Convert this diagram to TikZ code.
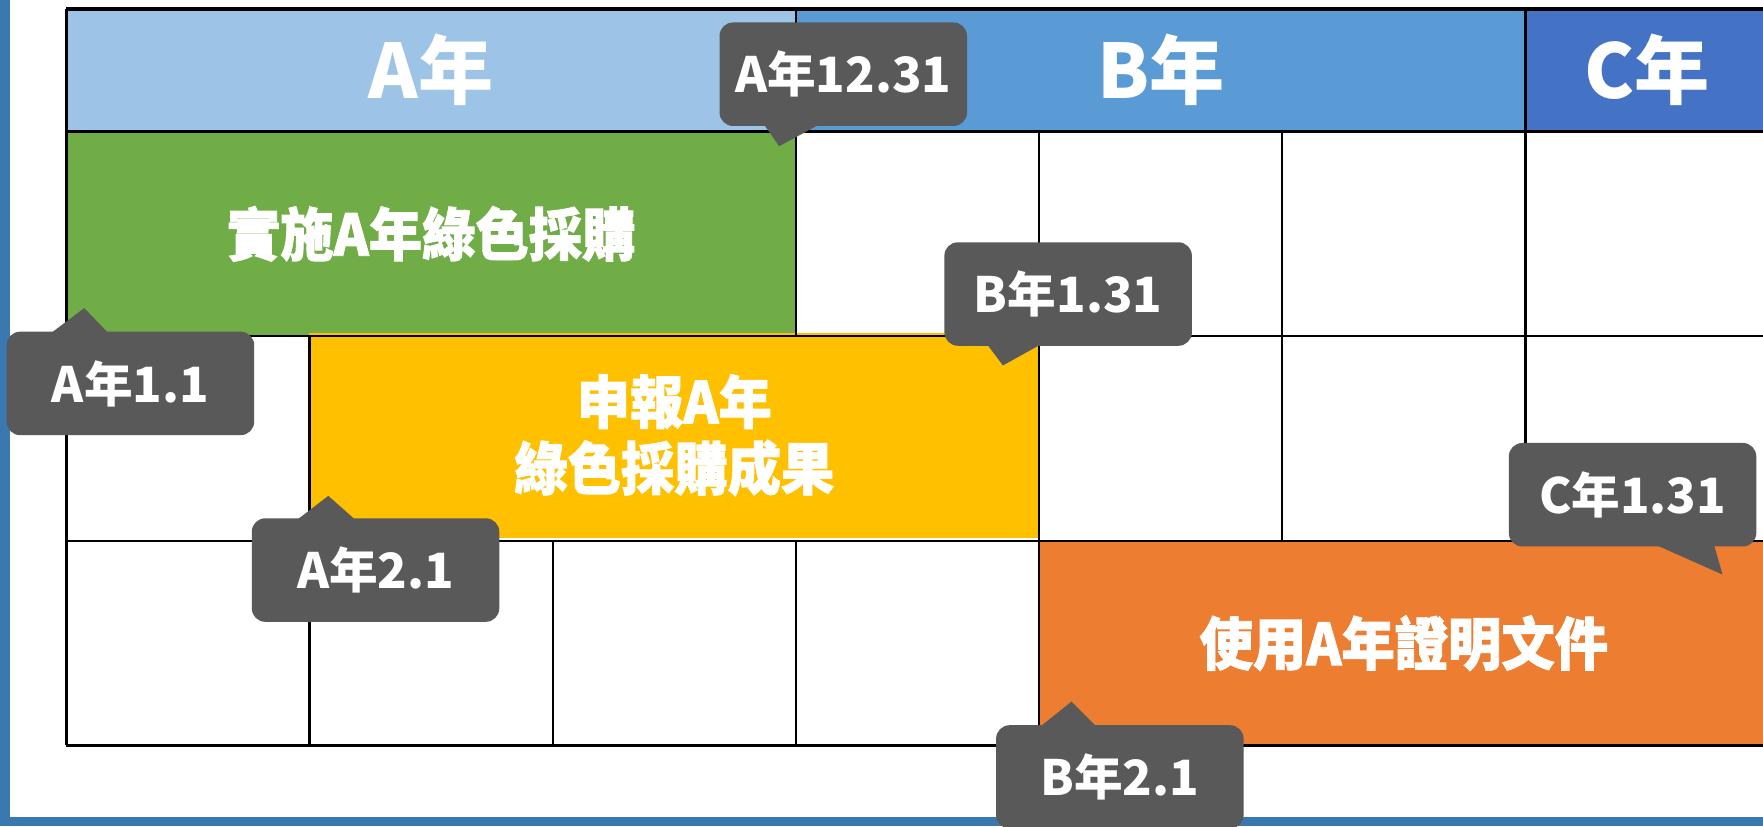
\documentclass[tikz,border=0pt]{standalone}
\usepackage{fontspec}
\setmainfont{Noto Sans CJK TC}
\newfontfamily\heavyfont[BoldFeatures={FakeBold=1.6,FakeStretch=0.93}]{Noto Sans CJK TC}
\definecolor{hdrA}{HTML}{9DC3E6}
\definecolor{hdrB}{HTML}{5B9BD5}
\definecolor{hdrC}{HTML}{4472C4}
\definecolor{boxG}{HTML}{70AD47}
\definecolor{boxY}{HTML}{FFC000}
\definecolor{boxO}{HTML}{ED7D31}
\definecolor{tipgray}{HTML}{595959}
\definecolor{strip}{HTML}{3A78B0}
\tikzset{
  hdr/.style={inner sep=0pt, minimum height=1.09cm, text=white, font=\bfseries\fontsize{19}{19}\selectfont},
  task/.style={inner sep=0pt, minimum height=1.82cm, minimum width=6.49cm, text=white, align=center, font=\heavyfont\bfseries\fontsize{14.5}{16.8}\selectfont},
  gridline/.style={line width=0.55pt, draw=black},
  outerline/.style={line width=0.85pt, draw=black},
  tipbox/.style={fill=tipgray, rounded corners=0.12cm, inner sep=0pt, minimum width=2.2cm, minimum height=0.92cm, text=white, font=\bfseries\fontsize{12.3}{12.3}\selectfont},
  tipptr/.style={fill=tipgray}
}
\begin{document}
\begin{tikzpicture}[x=0.01cm,y=-0.01cm]
\useasboundingbox (0,0) rectangle (1568,735);
\fill[white] (0,0) rectangle (1568,735);
% header cells
\node[hdr, fill=hdrA, minimum width=6.49cm] (ya) at (383.5,62.5) {A年};
\node[hdr, fill=hdrB, minimum width=6.488cm] (yb) at (1032.4,62.5) {B年};
\node[hdr, fill=hdrC, minimum width=2.162cm] (yc) at (1464.9,62.5) {C年};
% task boxes
\node[task, fill=boxG] (t1) at (383.5,208) {實施A年綠色採購};
\node[task, fill=boxY] (t2) at (599.75,387) {申報A年\\綠色採購成果};
\node[task, fill=boxO, minimum width=6.488cm] (t3) at (1248.6,572) {使用A年證明文件};
% grid lines
\draw[gridline] (59,117) -- (1573,117);
\draw[gridline] (59,299) -- (1573,299);
\draw[gridline] (59,481) -- (1573,481);
\draw[gridline] (708,8) -- (708,117);
\draw[gridline] (1356.8,8) -- (1356.8,117);
\foreach \x in {708,924.2,1140.5,1356.8} \draw[gridline] (\x,117) -- (\x,299);
\foreach \x in {275.3,924.2,1140.5,1356.8} \draw[gridline] (\x,299) -- (\x,481);
\foreach \x in {275.3,491.6,708,924.2} \draw[gridline] (\x,481) -- (\x,663);
\draw[outerline] (59,8) -- (1573,8);
\draw[outerline] (59,663) -- (1573,663);
\draw[outerline] (59,8) -- (59,663);
% frame strips
\fill[strip] (0,0) rectangle (9,735);
\fill[strip] (0,727) rectangle (1568,735);
% callouts
\node[tipbox] (c1) at (750,66) {A年12.31};
\fill[tipptr] (679,110) -- (693,130) -- (730,110) -- cycle;
\node[tipbox] (c2) at (116,341) {A年1.1};
\fill[tipptr] (43,298) -- (75,274) -- (98,298) -- cycle;
\node[tipbox] (c3) at (950,261.5) {B年1.31};
\fill[tipptr] (877,305) -- (892,325) -- (928,305) -- cycle;
\node[tipbox] (c4) at (334,507) {A年2.1};
\fill[tipptr] (262,464) -- (292,441) -- (318,464) -- cycle;
\node[tipbox] (c5) at (1452,440) {C年1.31};
\fill[tipptr] (1469,483) -- (1532,511) -- (1524,483) -- cycle;
\node[tipbox] (c6) at (996,691) {B年2.1};
\fill[tipptr] (923,648) -- (953,624) -- (977,648) -- cycle;
\end{tikzpicture}
\end{document}
